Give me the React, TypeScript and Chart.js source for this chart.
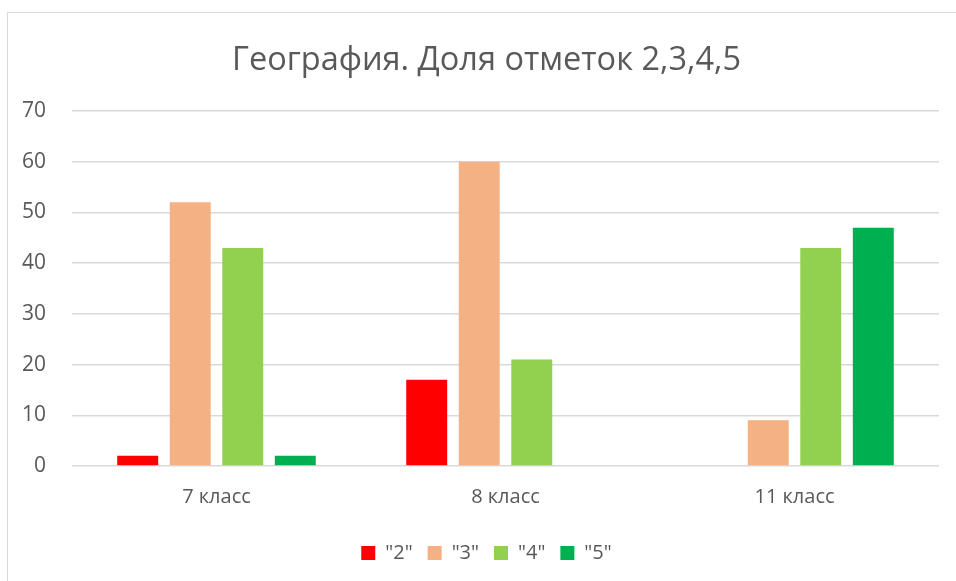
import React, { useEffect, useRef } from "react";
import { Chart, registerables } from "chart.js";

Chart.register(...registerables);

const categories = ["7 класс", "8 класс", "11 класс"];
const seriesLabels = ['"2"', '"3"', '"4"', '"5"'];
const grade2 = [2, 17, 0];
const grade3 = [52, 60, 9];
const grade4 = [43, 21, 43];
const grade5 = [2, 0, 47];
const colors = ["#FF0000", "#F4B183", "#92D050", "#00B050"];
const titleText = "География. Доля отметок 2,3,4,5";

const FONT = "'Open Sans', 'DejaVu Sans', sans-serif";
const TEXT = "#595959";

export default function App() {
  const ref = useRef<HTMLCanvasElement | null>(null);
  useEffect(() => {
    if (!ref.current) return;
    const values = [grade2, grade3, grade4, grade5];
    const chart = new Chart(ref.current, {
      type: "bar",
      data: {
        labels: categories,
        datasets: values.map((v, i) => ({
          label: seriesLabels[i],
          data: v,
          backgroundColor: colors[i],
          borderWidth: 0,
          categoryPercentage: 0.727,
          barPercentage: 0.78,
          yAxisID: "y",
        })),
      },
      options: {
        responsive: false,
        animation: false,
        layout: { padding: { left: 8, right: 8, top: 0, bottom: 8 } },
        plugins: {
          title: {
            display: true,
            text: titleText,
            color: TEXT,
            font: { family: FONT, size: 32.5, weight: "normal" },
            padding: { top: 41, bottom: 31 },
          },
          legend: {
            position: "bottom",
            labels: {
              boxWidth: 14,
              boxHeight: 14,
              color: TEXT,
              font: { family: FONT, size: 20 },
              padding: 15,
            },
          },
          tooltip: { enabled: false },
        },
        scales: {
          x: {
            grid: { display: false, drawTicks: false },
            border: { display: false },
            ticks: { color: TEXT, font: { family: FONT, size: 20 }, padding: 19 },
          },
          y: {
            min: 0,
            max: 70,
            ticks: { stepSize: 10, color: TEXT, font: { family: FONT, size: 21 }, padding: 26 },
            grid: { color: "#D9D9D9", lineWidth: 1.5, drawTicks: false },
            border: { display: false },
            afterFit: (s: any) => { s.width = 64; },
          },
          yR: {
            position: "right",
            display: true,
            grid: { display: false, drawTicks: false },
            ticks: { display: false },
            border: { display: false },
            afterFit: (s: any) => { s.width = 26; },
          },
        },
      },
    });
    return () => chart.destroy();
  }, []);
  return (
    <div style={{ position: "absolute", left: 0, top: 0, width: 956, height: 581, overflow: "hidden", background: "#fff" }}>
      <div style={{ position: "absolute", left: 7, top: 12, width: 1100, height: 700, borderLeft: "1.5px solid #D9D9D9", borderTop: "1.5px solid #D9D9D9" }} />
      <canvas ref={ref} width={973} height={581} style={{ position: "absolute", left: 0, top: 0 }} />
    </div>
  );
}
